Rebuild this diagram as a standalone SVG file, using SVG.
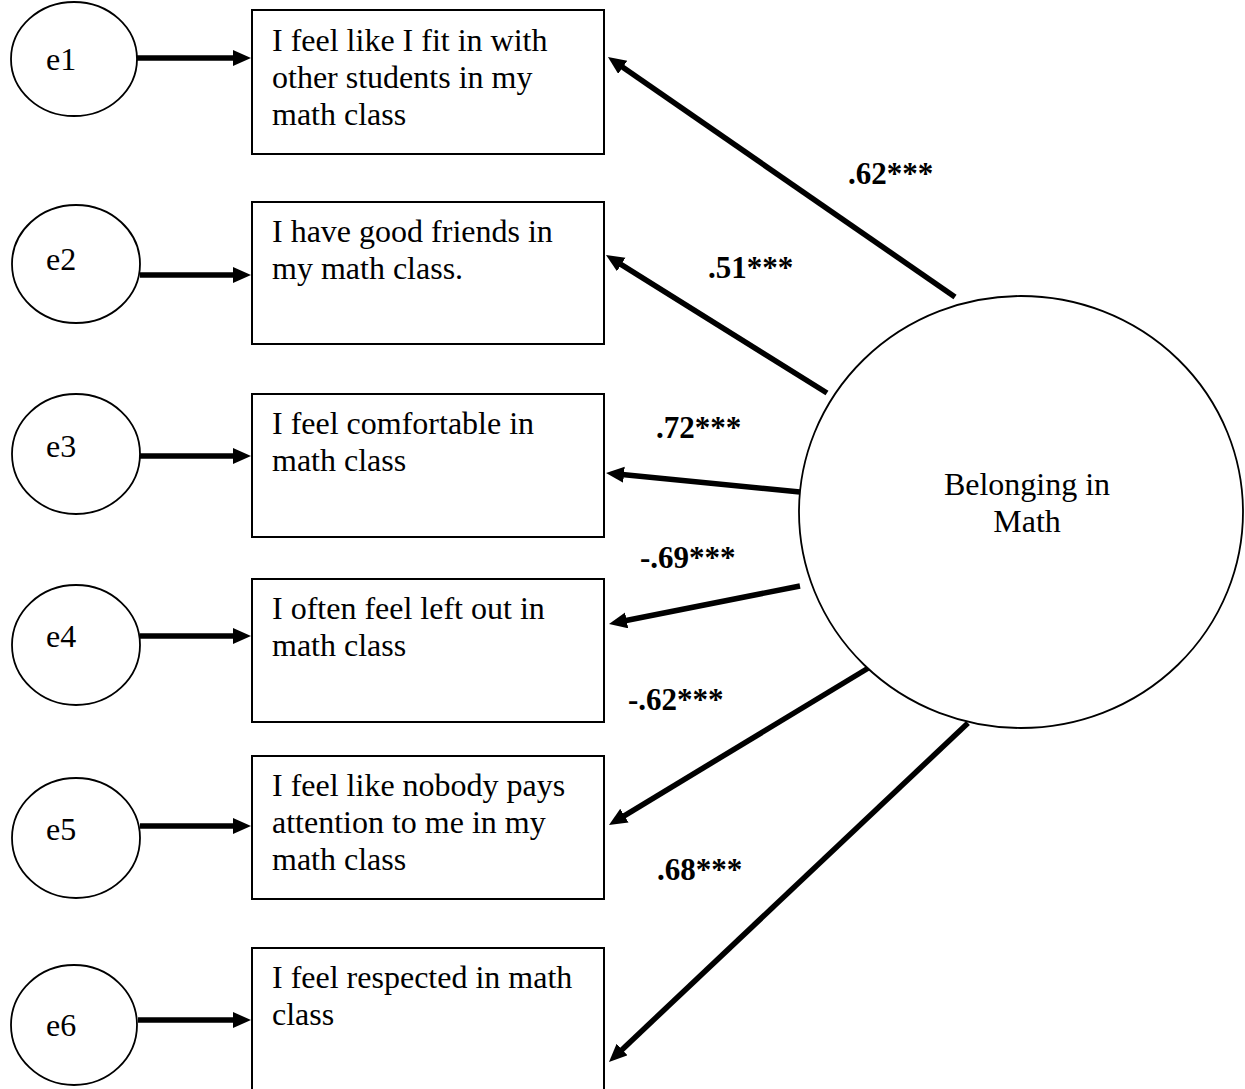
<svg xmlns="http://www.w3.org/2000/svg" width="1245" height="1089" viewBox="0 0 1245 1089">
<style>
.box{fill:#fff;stroke:#000;stroke-width:2}
.ell{fill:#fff;stroke:#000;stroke-width:1.8}
.t{font-family:"Liberation Serif","Times New Roman",serif;font-size:32px;fill:#000}
.lbl{font-family:"Liberation Serif","Times New Roman",serif;font-size:31px;font-weight:bold;fill:#000}
.c{stroke:#000;stroke-width:5.5;fill:none;marker-end:url(#ah)}
</style>
<defs>
<marker id="ah" markerUnits="userSpaceOnUse" markerWidth="20" markerHeight="18" refX="7" refY="8" orient="auto"><path d="M0,0 L18,8 L0,16 z" fill="#000"/></marker>
</defs>
<rect width="1245" height="1089" fill="#fff"/>
<g id="connectors">
<line class="c" x1="137" y1="58" x2="240" y2="58"/>
<line class="c" x1="140" y1="275" x2="240" y2="275"/>
<line class="c" x1="140" y1="456" x2="240" y2="456"/>
<line class="c" x1="140" y1="636" x2="240" y2="636"/>
<line class="c" x1="140" y1="826" x2="240" y2="826"/>
<line class="c" x1="138" y1="1020" x2="240" y2="1020"/>
<line class="c" x1="955" y1="297" x2="617" y2="63.3"/>
<line class="c" x1="827" y1="393" x2="615.3" y2="260.8"/>
<line class="c" x1="800" y1="492" x2="617" y2="474.1"/>
<line class="c" x1="800" y1="586" x2="619.8" y2="621.8"/>
<line class="c" x1="875" y1="664" x2="618.4" y2="819.3"/>
<line class="c" x1="968" y1="723" x2="617" y2="1054.4"/>
</g>
<g id="e1"><ellipse class="ell" cx="74" cy="59" rx="63" ry="57"/><text class="t" x="46" y="70">e1</text></g>
<g id="e2"><ellipse class="ell" cx="76" cy="264" rx="64" ry="59"/><text class="t" x="46" y="270">e2</text></g>
<g id="e3"><ellipse class="ell" cx="76" cy="454" rx="64" ry="60"/><text class="t" x="46" y="457">e3</text></g>
<g id="e4"><ellipse class="ell" cx="76" cy="645" rx="64" ry="60"/><text class="t" x="46" y="647">e4</text></g>
<g id="e5"><ellipse class="ell" cx="76" cy="838" rx="64" ry="60"/><text class="t" x="46" y="840">e5</text></g>
<g id="e6"><ellipse class="ell" cx="74" cy="1025" rx="63" ry="60"/><text class="t" x="46" y="1036">e6</text></g>
<g id="item1"><rect class="box" x="252" y="10" width="352" height="144"/><text class="t" x="272" y="51"><tspan x="272">I feel like I fit in with</tspan><tspan x="272" dy="36.8">other students in my</tspan><tspan x="272" dy="36.8">math class</tspan></text></g>
<g id="item2"><rect class="box" x="252" y="202" width="352" height="142"/><text class="t" x="272" y="242"><tspan x="272">I have good friends in</tspan><tspan x="272" dy="36.8">my math class.</tspan></text></g>
<g id="item3"><rect class="box" x="252" y="394" width="352" height="143"/><text class="t" x="272" y="434"><tspan x="272">I feel comfortable in</tspan><tspan x="272" dy="36.8">math class</tspan></text></g>
<g id="item4"><rect class="box" x="252" y="579" width="352" height="143"/><text class="t" x="272" y="619"><tspan x="272">I often feel left out in</tspan><tspan x="272" dy="36.8">math class</tspan></text></g>
<g id="item5"><rect class="box" x="252" y="756" width="352" height="143"/><text class="t" x="272" y="796"><tspan x="272">I feel like nobody pays</tspan><tspan x="272" dy="36.8">attention to me in my</tspan><tspan x="272" dy="36.8">math class</tspan></text></g>
<g id="item6"><rect class="box" x="252" y="948" width="352" height="150"/><text class="t" x="272" y="988"><tspan x="272">I feel respected in math</tspan><tspan x="272" dy="36.8">class</tspan></text></g>
<g id="belonging"><ellipse class="ell" cx="1021" cy="512" rx="222" ry="216"/><text class="t" x="1027" y="495" text-anchor="middle"><tspan x="1027">Belonging in</tspan><tspan x="1027" dy="37">Math</tspan></text></g>
<g id="labels">
<text class="lbl" x="848" y="184">.62***</text>
<text class="lbl" x="708" y="278">.51***</text>
<text class="lbl" x="656" y="438">.72***</text>
<text class="lbl" x="640" y="568">-.69***</text>
<text class="lbl" x="628" y="710">-.62***</text>
<text class="lbl" x="657" y="880">.68***</text>
</g>
</svg>
